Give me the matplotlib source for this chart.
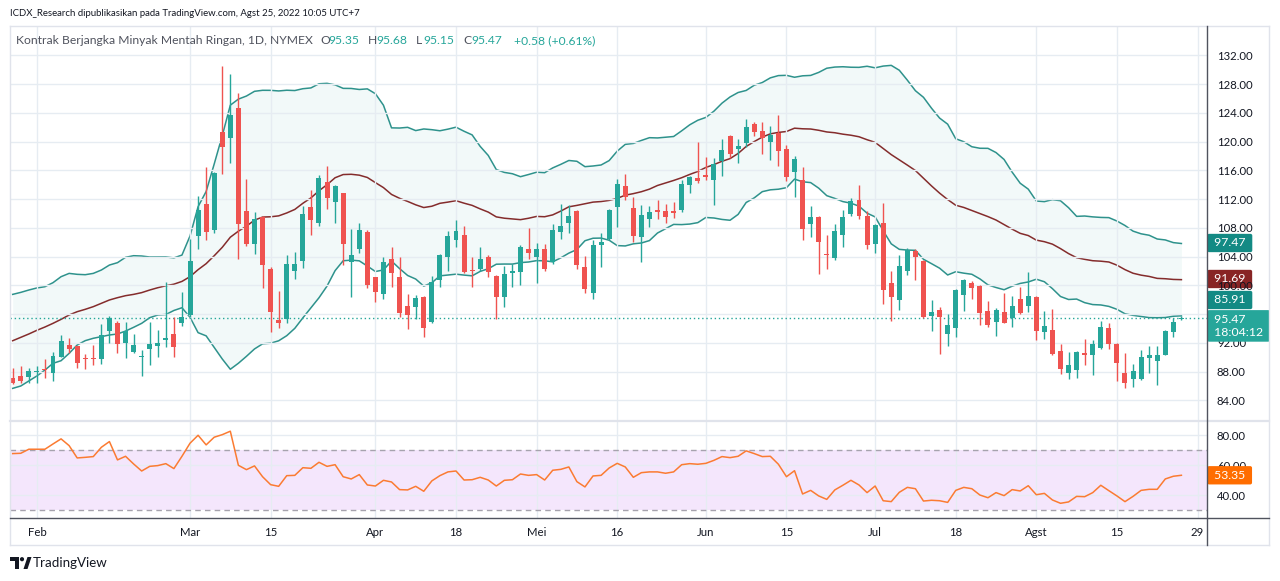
import numpy as np
import pandas as pd
import matplotlib
matplotlib.use("Agg")
import matplotlib.pyplot as plt
import matplotlib.transforms as mtrans
from matplotlib.patches import Polygon, Ellipse
from matplotlib.lines import Line2D
from matplotlib.ticker import FormatStrFormatter
from matplotlib import font_manager as fm

plt.rcParams['font.family'] = ['Lato', 'DejaVu Sans']

# ---------------- data ----------------
opens = [87.11, 87.39, 87.29, 87.95, 88.30, 87.85, 90.08, 91.65, 91.51, 89.80,
         89.90, 89.80, 93.69, 94.76, 92.02, 90.77, 90.00, 91.19, 91.56, 92.35,
         93.23, 94.80, 95.87, 106.91, 111.31, 107.69, 121.32, 120.54, 124.66, 110.34,
         105.79, 109.50, 102.27, 95.18, 95.27, 102.04, 103.43, 110.89, 108.71, 114.37,
         111.63, 112.84, 103.29, 105.10, 107.42, 101.11, 98.79, 103.61, 101.11, 97.12,
         97.03, 98.38, 94.94, 100.74, 103.98, 106.30, 107.00, 102.20, 102.22, 103.89,
         101.30, 98.42, 101.67, 101.90, 105.00, 103.89, 105.00, 103.29, 107.46, 108.62,
         110.34, 102.50, 98.89, 105.56, 106.40, 110.85, 113.81, 110.75, 106.77, 109.18,
         110.48, 110.34, 110.34, 110.48, 113.95, 114.97, 115.34, 114.65, 117.29, 120.77,
         119.00, 119.75, 122.44, 121.46, 119.98, 121.14, 118.96, 115.81, 114.65, 108.53,
         109.50, 104.40, 103.80, 107.04, 109.92, 111.87, 109.64, 105.75, 108.67, 100.32,
         97.96, 101.99, 104.82, 103.38, 95.73, 96.57, 93.23, 94.11, 98.65, 100.28,
         99.91, 96.43, 94.94, 96.29, 95.41, 98.10, 97.12, 98.42, 93.55, 93.79,
         90.87, 87.85, 88.22, 90.54, 90.31, 91.24, 94.11, 91.84, 87.85, 86.92,
         86.92, 89.84, 89.52, 90.35, 93.55, 95.35]
highs = [88.50, 88.78, 88.45, 88.78, 89.70, 90.68, 93.09, 92.67, 91.56, 90.45,
         91.70, 94.62, 95.73, 95.04, 94.90, 93.23, 91.00, 94.90, 93.78, 100.41,
         95.55, 99.07, 106.44, 112.42, 116.46, 115.70, 130.50, 129.39, 126.70, 114.79,
         110.15, 109.64, 102.50, 99.21, 104.22, 104.63, 111.08, 113.26, 115.34, 116.60,
         113.95, 112.89, 107.83, 108.67, 107.69, 101.11, 103.89, 105.38, 103.89, 98.75,
         98.65, 98.52, 101.30, 104.36, 107.55, 109.04, 108.25, 103.89, 105.28, 104.22,
         101.44, 102.69, 102.97, 105.61, 107.93, 105.84, 105.75, 108.48, 111.31, 111.12,
         110.48, 104.08, 106.30, 107.23, 110.66, 114.83, 115.48, 112.33, 111.12, 111.03,
         111.87, 111.31, 111.59, 114.65, 115.20, 119.93, 117.89, 117.75, 120.35, 120.95,
         120.35, 123.09, 122.72, 122.72, 122.16, 123.69, 119.47, 117.99, 116.46, 111.03,
         109.64, 107.00, 108.53, 110.48, 112.14, 113.95, 110.34, 108.53, 111.45, 101.99,
         104.22, 105.14, 105.00, 103.52, 97.96, 96.94, 96.01, 99.53, 100.88, 100.65,
         100.00, 97.86, 96.85, 98.89, 98.52, 99.77, 101.90, 98.52, 96.48, 96.66,
         91.84, 90.73, 90.91, 92.58, 92.40, 95.04, 94.71, 91.93, 90.54, 89.06,
         91.00, 91.61, 91.56, 93.79, 95.41, 95.68]
lows = [86.23, 86.46, 86.37, 86.46, 87.05, 86.74, 90.08, 90.63, 88.50, 88.41,
        88.90, 89.10, 92.02, 90.63, 89.94, 90.63, 87.43, 88.96, 90.08, 91.47,
        90.08, 94.39, 95.60, 105.05, 106.30, 107.23, 115.48, 117.06, 103.61, 105.52,
        104.40, 99.67, 93.55, 94.11, 94.81, 100.93, 102.41, 107.00, 108.25, 110.62,
        108.62, 102.83, 98.42, 104.54, 99.67, 97.73, 98.05, 99.81, 95.64, 93.88,
        95.27, 92.86, 94.81, 99.81, 102.04, 105.38, 101.67, 99.77, 102.04, 101.11,
        95.27, 97.03, 99.81, 100.04, 103.66, 100.28, 102.04, 102.92, 106.49, 107.23,
        102.22, 98.89, 98.14, 102.60, 106.30, 108.16, 111.87, 106.07, 103.20, 108.16,
        109.18, 108.62, 109.32, 110.25, 112.89, 114.18, 114.65, 111.17, 115.20, 117.66,
        117.06, 119.19, 120.77, 118.26, 117.43, 116.60, 114.56, 112.33, 106.30, 106.77,
        101.53, 102.32, 103.52, 105.38, 109.64, 109.27, 105.05, 104.50, 97.40, 95.08,
        96.57, 101.44, 100.74, 95.41, 93.69, 90.45, 91.56, 92.86, 96.48, 98.14,
        94.48, 94.16, 92.95, 94.71, 94.25, 96.01, 96.34, 92.40, 92.49, 90.31,
        87.67, 87.02, 87.06, 88.92, 87.53, 91.10, 91.19, 86.74, 85.67, 85.91,
        86.83, 87.85, 86.14, 90.35, 92.77, 95.15]
closes = [86.46, 86.64, 88.08, 88.10, 88.20, 90.17, 92.25, 91.19, 89.24, 89.70,
          89.80, 93.04, 95.41, 91.88, 93.64, 91.65, 90.20, 91.79, 91.98, 92.72,
          91.47, 95.55, 103.38, 110.48, 107.46, 115.62, 119.28, 123.69, 108.57, 105.79,
          109.22, 102.87, 96.34, 94.81, 102.97, 102.97, 109.92, 109.08, 114.93, 112.19,
          113.81, 105.79, 104.22, 107.69, 100.04, 99.12, 103.24, 101.76, 96.10, 95.87,
          98.28, 94.11, 100.51, 104.22, 106.86, 107.55, 101.90, 102.04, 103.61, 101.90,
          98.42, 101.53, 102.00, 105.28, 104.54, 105.00, 102.27, 107.69, 108.25, 109.64,
          102.83, 99.53, 105.61, 106.07, 110.48, 114.09, 112.24, 106.91, 109.78, 110.20,
          110.15, 109.55, 110.10, 114.09, 115.11, 114.56, 115.11, 116.87, 118.82, 118.26,
          119.37, 121.97, 121.37, 120.44, 120.91, 118.73, 115.11, 117.57, 107.83, 109.50,
          106.07, 104.20, 107.55, 109.50, 111.73, 109.64, 105.61, 108.39, 99.35, 98.38,
          102.69, 104.91, 103.98, 95.55, 96.29, 95.64, 94.48, 99.35, 100.74, 99.67,
          96.20, 94.48, 96.57, 94.81, 97.12, 96.20, 98.52, 93.69, 94.34, 90.45,
          88.36, 88.92, 90.77, 90.31, 91.84, 94.16, 91.84, 89.24, 86.37, 88.08,
          90.08, 90.35, 90.35, 93.65, 94.89, 95.47]

# Bollinger band values of the first 19 bars (history before the window)
bb_up_head = [89.22, 89.54, 89.92, 90.25, 90.45, 91.10, 92.06, 92.59, 92.44, 92.38,
              92.59, 93.13, 93.93, 94.31, 95.17, 95.43, 95.38, 95.22, 95.22]
bb_mid_head = [81.78, 82.32, 82.86, 83.45, 83.98, 84.57, 85.21, 85.91, 86.44, 86.82,
               87.25, 87.78, 88.32, 88.69, 89.01, 89.22, 89.50, 89.92, 90.29]
bb_lo_head = [74.13, 74.51, 75.31, 76.12, 77.07, 78.15, 78.57, 79.75, 81.09, 81.79,
              82.17, 82.43, 82.70, 82.86, 83.33, 83.93, 84.57, 85.48, 85.91]
bb_labels = [97.47, 91.69, 85.91]

rsi = [67.8, 68.0, 70.7, 70.7, 70.7, 74.2, 77.6, 73.1, 64.9, 65.3,
       65.8, 72.0, 75.8, 63.6, 66.0, 60.9, 56.2, 59.3, 59.8, 61.1,
       57.8, 66.0, 74.7, 80.0, 73.6, 78.7, 80.4, 82.7, 60.0, 57.1,
       59.6, 52.4, 47.1, 46.0, 53.1, 53.3, 58.4, 58.0, 62.0, 59.3,
       60.4, 52.4, 50.9, 53.8, 46.9, 46.2, 50.0, 48.9, 43.8, 43.6,
       46.0, 42.7, 49.6, 53.1, 55.6, 56.2, 50.2, 50.4, 52.0, 50.2,
       46.2, 50.0, 50.4, 54.2, 53.3, 53.8, 50.2, 56.7, 57.3, 58.9,
       49.1, 45.6, 52.9, 53.3, 58.2, 61.3, 58.9, 52.0, 55.1, 55.6,
       55.6, 54.7, 55.6, 60.4, 61.1, 60.7, 61.3, 63.3, 65.8, 65.1,
       66.0, 69.6, 67.8, 65.8, 66.0, 60.7, 52.4, 56.4, 40.9, 43.3,
       39.6, 37.3, 43.6, 46.7, 50.0, 46.9, 41.8, 46.2, 36.4, 35.8,
       42.0, 45.3, 44.4, 36.2, 36.7, 36.4, 35.3, 43.3, 45.3, 44.4,
       40.2, 38.4, 41.8, 39.8, 43.8, 42.9, 46.4, 40.4, 41.3, 36.9,
       34.7, 35.6, 39.3, 39.1, 41.8, 46.7, 43.1, 39.6, 35.8, 39.3,
       43.3, 44.0, 44.0, 50.9, 52.7, 53.35]

# bar index of each time-axis label
date_ticks = [3, 22, 32, 45, 55, 65, 75, 86, 96, 107, 117, 127, 137, 147]
date_labels = ["Feb", "Mar", "15", "Apr", "18", "Mei", "16", "Jun", "15", "Jul",
               "18", "Agst", "15", "29"]
price_ticks = [84, 88, 92, 96, 100, 104, 108, 112, 116, 120, 124, 128, 132]
rsi_ticks = [40, 60, 80]
time_left = "18:04:12"
header = "ICDX_Research dipublikasikan pada TradingView.com, Agst 25, 2022 10:05 UTC+7"
title = "Kontrak Berjangka Minyak Mentah Ringan, 1D, NYMEX"

# ---------------- figure / layout ----------------
W, H = 1280, 581
fig = plt.figure(figsize=(W / 100, H / 100), dpi=100, facecolor="white")


def fx(px):
    return px / W


def fy(py):
    return 1 - py / H


L, R = 10, 1206.5
T, MB, RB, B = 26, 421, 518, 545

ax = fig.add_axes([fx(L), fy(MB), fx(R) - fx(L), fy(T) - fy(MB)])
axb = ax.twinx()
axr = fig.add_axes([fx(L), fy(RB), fx(R) - fx(L), fy(MB) - fy(RB)], sharex=ax)

ax.set_zorder(3)
axb.set_zorder(2)
ax.patch.set_visible(False)

n = len(closes)
x = np.arange(n)
o = np.array(opens); h = np.array(highs); lw_ = np.array(lows); c = np.array(closes)

UP, DN = "#26a69a", "#ef5350"
grid_c = "#e6ecf2"
txt_c = "#131722"

# candles
cols = np.where(c >= o, UP, DN)
ax.vlines(x, lw_, h, colors=cols, linewidth=1.0, zorder=3)
body_lo = np.minimum(o, c)
body_h = np.maximum(np.abs(c - o), 0.14)
ax.bar(x, body_h, bottom=body_lo, width=0.62, color=cols, linewidth=0, zorder=4)

# current price dotted line
ax.axhline(c[-1], color=UP, linestyle=(0, (1, 2)), linewidth=1.0, zorder=2)

# Bollinger bands (own scale)
cs = pd.Series(closes)
mid = cs.rolling(20).mean().to_numpy()
sd = cs.rolling(20).std(ddof=0).to_numpy()
up = mid + 2 * sd
lo = mid - 2 * sd
mid[:19] = bb_mid_head
up[:19] = bb_up_head
lo[:19] = bb_lo_head
axb.fill_between(x, lo, up, color="#26a69a", alpha=0.06, linewidth=0)
axb.plot(x, up, color="#2e928c", linewidth=1.1)
axb.plot(x, lo, color="#2e928c", linewidth=1.1)
axb.plot(x, mid, color="#842c2c", linewidth=1.1)

# limits
xl = ((L - 12.7) / 8.06, (R - 12.7) / 8.06)
ax.set_xlim(*xl)
ax.set_ylim(81.13, 136.07)
axb.set_ylim(68.89, 132.31)
axb.set_yticks([])
for s in axb.spines.values():
    s.set_visible(False)

ax.set_xticks(date_ticks)
ax.set_yticks(price_ticks)
ax.yaxis.set_major_formatter(FormatStrFormatter("%.2f"))
ax.yaxis.tick_right()
ax.tick_params(axis="x", length=0, labelbottom=False)
ax.tick_params(axis="y", length=0, pad=7.5, labelsize=8.2, labelcolor=txt_c)
ax.grid(True, color=grid_c, linewidth=1.0, zorder=0)
ax.set_axisbelow(True)
for s in ax.spines.values():
    s.set_visible(False)

# RSI pane
axr.axhspan(30, 70, color="#f4e6fc", linewidth=0, zorder=1)
axr.axhline(70, color="#a6a3ad", linestyle=(0, (4, 3)), linewidth=1.0, zorder=2)
axr.axhline(30, color="#a6a3ad", linestyle=(0, (4, 3)), linewidth=1.0, zorder=2)
axr.plot(x, rsi, color="#fb7b32", linewidth=1.1, zorder=3)
axr.set_ylim(24.9, 89.5)
axr.set_yticks(rsi_ticks)
axr.yaxis.set_major_formatter(FormatStrFormatter("%.2f"))
axr.yaxis.tick_right()
axr.set_xticks(date_ticks)
axr.set_xticklabels(date_labels)
axr.tick_params(axis="x", length=0, pad=6.5, labelsize=8.2, labelcolor=txt_c)
axr.tick_params(axis="y", length=0, pad=7.5, labelsize=8.2, labelcolor=txt_c)
axr.grid(True, color=grid_c, linewidth=1.0, zorder=1.5)
for s in axr.spines.values():
    s.set_visible(False)

# borders
def fline(x0, y0, x1, y1, color, lw):
    fig.add_artist(Line2D([fx(x0), fx(x1)], [fy(y0), fy(y1)], transform=fig.transFigure,
                          color=color, linewidth=lw, zorder=10))

border = "#e0e3eb"
fline(L, T, 1269, T, border, 1.0)
fline(L, B, 1269, B, border, 1.0)
fline(L, T, L, B, border, 1.0)
fline(1269, T, 1269, B, border, 1.0)
fline(L, MB, 1269, MB, border, 1.6)
fline(R, T, R, B, "#50535e", 1.0)
fline(L, RB, 1269, RB, "#50535e", 1.0)

# price-axis labels
def plabel(axis, val, s, color, dy=0, fs=8.8):
    tr = mtrans.blended_transform_factory(fig.transFigure, axis.transData)
    tr = mtrans.offset_copy(tr, fig=fig, x=0, y=dy, units="dots")
    axis.text(fx(R + 4.5), val, s, transform=tr, ha="left", va="center", color="white",
              fontsize=fs, zorder=20, clip_on=False, linespacing=1.25,
              bbox=dict(boxstyle="round,pad=0.3,rounding_size=0.15", fc=color, ec="none"))

plabel(axb, bb_labels[0], f" {bb_labels[0]:.2f} ", "#138a84")
plabel(axb, bb_labels[1], f" {bb_labels[1]:.2f} ", "#882424")
plabel(axb, bb_labels[2], f" {bb_labels[2]:.2f} ", "#138a84", dy=15)
plabel(ax, c[-1], f" {c[-1]:.2f}\n {time_left} ", UP, dy=-8)
plabel(axr, rsi[-1], f" {rsi[-1]:.2f} ", "#ff6d00")

# header: a narrow face if one is installed, fitted to the reference width
hdr_family = ['Lato', 'DejaVu Sans']
try:
    fm.findfont(fm.FontProperties(family='Liberation Sans Narrow'), fallback_to_default=False)
    hdr_family = ['Liberation Sans Narrow', 'DejaVu Sans']
except Exception:
    pass
hdr = fig.text(fx(10), fy(13), header, ha="left", va="center", fontsize=8.6, color=txt_c,
               family=hdr_family)
fig.canvas.draw()
wpx = hdr.get_window_extent(fig.canvas.get_renderer()).width
hdr.set_fontsize(min(9.2, 8.6 * 352.0 / wpx))

gray = "#50535e"
leg_y = fy(41)
fig.text(fx(16), leg_y, title, ha="left", va="center", fontsize=8.75, color=gray, zorder=20)
pieces = [(320, "O", gray), (328, f"{opens[-1]:.2f}", UP), (368, "H", gray), (376, f"{highs[-1]:.2f}", UP),
          (416, "L", gray), (423, f"{lows[-1]:.2f}", UP), (463, "C", gray), (471, f"{closes[-1]:.2f}", UP),
          (514, f"+{closes[-1]-closes[-2]:.2f} (+{(closes[-1]/closes[-2]-1)*100:.2f}%)", UP)]
for px_, s, col in pieces:
    fig.text(fx(px_), leg_y, s, ha="left", va="center", fontsize=8.75, color=col, zorder=20)

# TradingView logo
logo = "#131722"
fig.add_artist(Polygon([(fx(10), fy(557)), (fx(19), fy(557)), (fx(19), fy(569)), (fx(15), fy(569)),
                        (fx(15), fy(561)), (fx(10), fy(561))], closed=True, transform=fig.transFigure,
                       fc=logo, ec="none"))
fig.add_artist(Ellipse((fx(22), fy(559.2)), fx(4.2), 4.2 / H, transform=fig.transFigure, fc=logo, ec="none"))
fig.add_artist(Polygon([(fx(23.5), fy(569)), (fx(27.5), fy(557)), (fx(31.5), fy(557)), (fx(27.5), fy(569))],
                       closed=True, transform=fig.transFigure, fc=logo, ec="none"))
fig.text(fx(33), fy(563), "TradingView", ha="left", va="center", fontsize=9.6, color=logo)

fig.savefig("out.png", dpi=100, facecolor="white")
